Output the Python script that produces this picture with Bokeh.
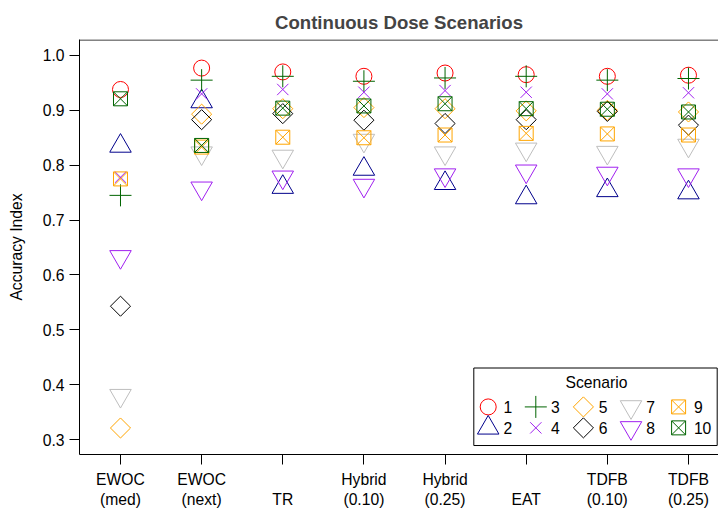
import numpy as np
from bokeh.plotting import figure
from bokeh.models import Range1d, FixedTicker, Span
from bokeh.core.properties import value
from bokeh.embed import file_html
from bokeh.resources import INLINE

# ---------------- data ----------------
method_labels = ["EWOC\n(med)", "EWOC\n(next)", "\nTR", "Hybrid\n(0.10)",
                 "Hybrid\n(0.25)", "\nEAT", "TDFB\n(0.10)", "TDFB\n(0.25)"]
method_pos = [1, 2, 3, 4, 5, 6, 7, 8]

scen1 = [0.938, 0.977, 0.970, 0.962, 0.968, 0.965, 0.962, 0.964]
scen2 = [0.835, 0.916, 0.760, 0.793, 0.767, 0.741, 0.754, 0.750]
scen3 = [0.745, 0.955, 0.962, 0.953, 0.959, 0.962, 0.955, 0.958]
scen4 = [0.778, 0.930, 0.938, 0.933, 0.936, 0.933, 0.930, 0.932]
scen5 = [0.321, 0.893, 0.903, 0.905, 0.903, 0.899, 0.900, 0.897]
scen6 = [0.543, 0.883, 0.894, 0.882, 0.876, 0.883, 0.898, 0.873]
scen7 = [0.380, 0.822, 0.816, 0.845, 0.822, 0.829, 0.823, 0.836]
scen8 = [0.633, 0.758, 0.778, 0.763, 0.782, 0.789, 0.785, 0.782]
scen9 = [0.775, 0.833, 0.851, 0.850, 0.855, 0.858, 0.857, 0.855]
scen10 = [0.921, 0.836, 0.904, 0.908, 0.912, 0.903, 0.902, 0.897]

scenario_names = ["1", "2", "3", "4", "5", "6", "7", "8", "9", "10"]
y_ticks = [0.3, 0.4, 0.5, 0.6, 0.7, 0.8, 0.9, 1.0]

series = [scen1, scen2, scen3, scen4, scen5, scen6, scen7, scen8, scen9, scen10]

# ---------------- styles ----------------
markers = ["circle", "triangle", "cross", "x", "square", "square",
           "inverted_triangle", "inverted_triangle", "square_x", "square_x"]
angles = [0, 0, 0, 0, np.pi / 4, np.pi / 4, 0, 0, 0, 0]
sizes = [16, 21.5, 22, 16, 14.2, 14.2, 21.5, 21.5, 14, 14]
colors = ["#FF0000", "#00008B", "#006400", "#A020F0", "#FFA500",
          "#000000", "#BEBEBE", "#A020F0", "#FFA500", "#006400"]

FONT = "Liberation Sans"
FS = "15.7px"
W, H = 718, 510
ML, MR, MT, MB = 79, 0, 39, 55
FW, FH = W - ML - MR, H - MT - MB
Y0, Y1 = 0.2727, 1.0291

p = figure(width=W, height=H, output_backend="svg", toolbar_location=None,
           x_range=Range1d(0.4947, 8.37), y_range=Range1d(Y0, Y1),
           min_border_left=ML, min_border_right=MR, min_border_top=MT,
           min_border_bottom=MB, title="Continuous Dose Scenarios")
p.extra_x_ranges = {"lg": Range1d(0, FW)}
p.extra_y_ranges = {"lg": Range1d(0, FH)}

p.title.align = "center"
p.title.text_font = FONT
p.title.text_font_size = "18.6px"
p.title.text_font_style = "bold"
p.title.standoff = 13

p.xgrid.visible = False
p.ygrid.visible = False
p.outline_line_color = None
p.background_fill_color = "white"
p.border_fill_color = "white"

# axes
p.xaxis.ticker = FixedTicker(ticks=method_pos)
p.xaxis.major_label_overrides = {m: lab for m, lab in zip(method_pos, method_labels)}
p.yaxis.ticker = FixedTicker(ticks=y_ticks)
p.yaxis.major_label_overrides = {t: f"{t:.1f}" for t in y_ticks}
for ax in (p.xaxis, p.yaxis):
    ax.axis_line_color = "black"
    ax.axis_line_width = 1
    ax.major_tick_line_color = "black"
    ax.major_tick_in = 0
    ax.minor_tick_line_color = None
    ax.major_label_text_font = FONT
    ax.major_label_text_font_size = FS
    ax.major_label_text_color = "black"
p.xaxis.major_tick_out = 10
p.xaxis.major_label_standoff = 6
p.yaxis.major_tick_out = 10
p.yaxis.major_label_standoff = 5
p.yaxis.axis_label = "Accuracy Index"
p.yaxis.axis_label_text_font = FONT
p.yaxis.axis_label_text_font_size = FS
p.yaxis.axis_label_text_font_style = "normal"
p.yaxis.axis_label_text_color = "black"
p.yaxis.axis_label_standoff = 15

# top border line (just inside the frame top)
p.add_layout(Span(location=Y1 - 0.0009, dimension="width",
                  line_color="black", line_width=1))

# data markers
for vals, mk, ang, sz, col in zip(series, markers, angles, sizes, colors):
    p.scatter(x=method_pos, y=vals, marker=mk, angle=ang, size=sz,
              line_color=col, fill_color=None, line_width=1)

# ---------------- legend (frame pixel coordinates) ----------------
LB_L, LB_R, LB_B, LB_T = 394.3, 637.7, 9.0, 86.7
p.quad(left=[LB_L], right=[LB_R], bottom=[LB_B], top=[LB_T],
       fill_color="white", line_color="black", line_width=1,
       x_range_name="lg", y_range_name="lg")
p.text(x=[517.0], y=[72.3], text=["Scenario"],
       text_font=value(FONT), text_font_size=FS, text_align="center",
       text_baseline="middle", text_color="black",
       x_range_name="lg", y_range_name="lg")
row_y = [47.7, 26.7]
gx0, gdx, txt_off = 408.7, 47.6, 15.3
for k in range(10):
    c, r = k // 2, k % 2
    gx = gx0 + c * gdx
    gy = row_y[r]
    p.scatter(x=[gx], y=[gy], marker=markers[k], angle=angles[k], size=sizes[k],
              line_color=colors[k], fill_color=None, line_width=1,
              x_range_name="lg", y_range_name="lg")
    p.text(x=[gx + txt_off], y=[gy], text=[scenario_names[k]],
           text_font=value(FONT), text_font_size=FS, text_align="left",
           text_baseline="middle", text_color="black",
           x_range_name="lg", y_range_name="lg")

open("out.html", "w").write(file_html(p, INLINE))
